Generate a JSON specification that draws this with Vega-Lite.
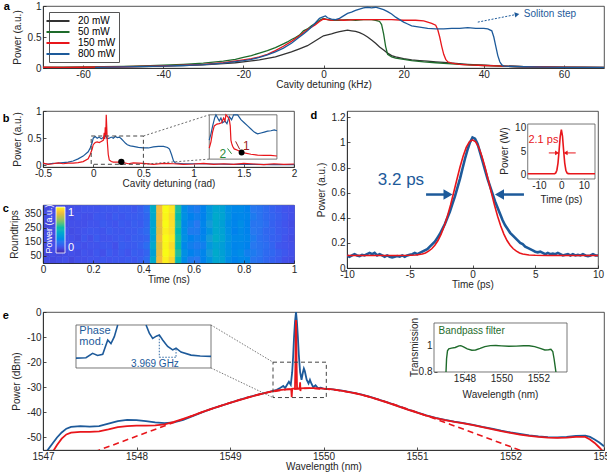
{
"$schema":"https://vega.github.io/schema/vega-lite/v6.json",
"padding":{"left":2,"top":0,"right":2,"bottom":0},
"config":{
 "font":"Liberation Sans",
 "locale":{"number":{"decimal":".","thousands":"","grouping":[3],"currency":["$",""],"minus":"-"}},
 "view":{"stroke":"#262626","strokeWidth":0.8},
 "axis":{"grid":false,"labelFlush":false,"labelOverlap":false,"domainColor":"#262626","domainWidth":0.8,"tickColor":"#262626","tickWidth":0.8,"tickSize":-3,"labelColor":"#262626","titleColor":"#262626","labelFontSize":10,"titleFontSize":10,"titleFontWeight":"normal"},
 "axisX":{"labelPadding":4,"titlePadding":0},
 "axisY":{"labelPadding":5,"titlePadding":5},
 "legend":{"labelFontSize":10}
},
"datasets":{
"a":[
{"x":-70,"p":0.01,"s":"20 mW"},{"x":-65,"p":0.008,"s":"20 mW"},{"x":-60,"p":0.012,"s":"20 mW"},{"x":-55,"p":0.014,"s":"20 mW"},{"x":-50,"p":0.018,"s":"20 mW"},{"x":-45,"p":0.024,"s":"20 mW"},{"x":-40,"p":0.03,"s":"20 mW"},{"x":-35,"p":0.04,"s":"20 mW"},{"x":-30,"p":0.052,"s":"20 mW"},{"x":-25,"p":0.07,"s":"20 mW"},{"x":-22,"p":0.085,"s":"20 mW"},{"x":-20,"p":0.1,"s":"20 mW"},{"x":-18,"p":0.115,"s":"20 mW"},{"x":-16,"p":0.13,"s":"20 mW"},{"x":-14,"p":0.155,"s":"20 mW"},{"x":-12,"p":0.18,"s":"20 mW"},{"x":-10,"p":0.22,"s":"20 mW"},{"x":-8,"p":0.26,"s":"20 mW"},{"x":-6,"p":0.31,"s":"20 mW"},{"x":-4,"p":0.36,"s":"20 mW"},{"x":-2,"p":0.44,"s":"20 mW"},{"x":-1,"p":0.48,"s":"20 mW"},{"x":0,"p":0.52,"s":"20 mW"},{"x":1,"p":0.535,"s":"20 mW"},{"x":2,"p":0.55,"s":"20 mW"},{"x":3,"p":0.57,"s":"20 mW"},{"x":4,"p":0.585,"s":"20 mW"},{"x":5,"p":0.6,"s":"20 mW"},{"x":6,"p":0.61,"s":"20 mW"},{"x":7,"p":0.6,"s":"20 mW"},{"x":8,"p":0.59,"s":"20 mW"},{"x":9,"p":0.57,"s":"20 mW"},{"x":10,"p":0.54,"s":"20 mW"},{"x":11,"p":0.5,"s":"20 mW"},{"x":12,"p":0.45,"s":"20 mW"},{"x":13,"p":0.4,"s":"20 mW"},{"x":14,"p":0.34,"s":"20 mW"},{"x":15,"p":0.29,"s":"20 mW"},{"x":16,"p":0.24,"s":"20 mW"},{"x":17,"p":0.2,"s":"20 mW"},{"x":18,"p":0.18,"s":"20 mW"},{"x":20,"p":0.15,"s":"20 mW"},{"x":22,"p":0.13,"s":"20 mW"},{"x":24,"p":0.12,"s":"20 mW"},{"x":26,"p":0.11,"s":"20 mW"},{"x":28,"p":0.1,"s":"20 mW"},{"x":30,"p":0.09,"s":"20 mW"},{"x":33,"p":0.075,"s":"20 mW"},{"x":36,"p":0.06,"s":"20 mW"},{"x":40,"p":0.045,"s":"20 mW"},{"x":45,"p":0.03,"s":"20 mW"},{"x":50,"p":0.02,"s":"20 mW"},{"x":55,"p":0.015,"s":"20 mW"},{"x":60,"p":0.01,"s":"20 mW"},{"x":65,"p":0.008,"s":"20 mW"},{"x":70,"p":0.005,"s":"20 mW"},
{"x":-70,"p":0.01,"s":"50 mW"},{"x":-60,"p":0.014,"s":"50 mW"},{"x":-55,"p":0.02,"s":"50 mW"},{"x":-50,"p":0.026,"s":"50 mW"},{"x":-45,"p":0.035,"s":"50 mW"},{"x":-40,"p":0.045,"s":"50 mW"},{"x":-35,"p":0.06,"s":"50 mW"},{"x":-30,"p":0.08,"s":"50 mW"},{"x":-25,"p":0.11,"s":"50 mW"},{"x":-22,"p":0.14,"s":"50 mW"},{"x":-20,"p":0.17,"s":"50 mW"},{"x":-18,"p":0.2,"s":"50 mW"},{"x":-16,"p":0.24,"s":"50 mW"},{"x":-14,"p":0.28,"s":"50 mW"},{"x":-12,"p":0.33,"s":"50 mW"},{"x":-10,"p":0.39,"s":"50 mW"},{"x":-9,"p":0.42,"s":"50 mW"},{"x":-8,"p":0.46,"s":"50 mW"},{"x":-7,"p":0.49,"s":"50 mW"},{"x":-6,"p":0.53,"s":"50 mW"},{"x":-5,"p":0.6,"s":"50 mW"},{"x":-4,"p":0.63,"s":"50 mW"},{"x":-3,"p":0.68,"s":"50 mW"},{"x":-2,"p":0.72,"s":"50 mW"},{"x":-1,"p":0.77,"s":"50 mW"},{"x":0,"p":0.8,"s":"50 mW"},{"x":1,"p":0.78,"s":"50 mW"},{"x":2,"p":0.77,"s":"50 mW"},{"x":4,"p":0.77,"s":"50 mW"},{"x":6,"p":0.78,"s":"50 mW"},{"x":8,"p":0.77,"s":"50 mW"},{"x":10,"p":0.78,"s":"50 mW"},{"x":12,"p":0.78,"s":"50 mW"},{"x":13,"p":0.77,"s":"50 mW"},{"x":14,"p":0.75,"s":"50 mW"},{"x":14.5,"p":0.7,"s":"50 mW"},{"x":15,"p":0.55,"s":"50 mW"},{"x":15.5,"p":0.35,"s":"50 mW"},{"x":16,"p":0.22,"s":"50 mW"},{"x":17,"p":0.18,"s":"50 mW"},{"x":18,"p":0.16,"s":"50 mW"},{"x":20,"p":0.14,"s":"50 mW"},{"x":22,"p":0.12,"s":"50 mW"},{"x":25,"p":0.1,"s":"50 mW"},{"x":28,"p":0.085,"s":"50 mW"},{"x":30,"p":0.075,"s":"50 mW"},{"x":35,"p":0.055,"s":"50 mW"},{"x":40,"p":0.04,"s":"50 mW"},{"x":45,"p":0.03,"s":"50 mW"},{"x":50,"p":0.02,"s":"50 mW"},{"x":60,"p":0.012,"s":"50 mW"},{"x":70,"p":0.008,"s":"50 mW"},
{"x":-70,"p":0.012,"s":"150 mW"},{"x":-65,"p":0.01,"s":"150 mW"},{"x":-60,"p":0.012,"s":"150 mW"},{"x":-50,"p":0.02,"s":"150 mW"},{"x":-40,"p":0.035,"s":"150 mW"},{"x":-35,"p":0.045,"s":"150 mW"},{"x":-30,"p":0.06,"s":"150 mW"},{"x":-25,"p":0.085,"s":"150 mW"},{"x":-20,"p":0.13,"s":"150 mW"},{"x":-18,"p":0.15,"s":"150 mW"},{"x":-16,"p":0.18,"s":"150 mW"},{"x":-14,"p":0.22,"s":"150 mW"},{"x":-12,"p":0.28,"s":"150 mW"},{"x":-10,"p":0.35,"s":"150 mW"},{"x":-8,"p":0.43,"s":"150 mW"},{"x":-6,"p":0.52,"s":"150 mW"},{"x":-5,"p":0.57,"s":"150 mW"},{"x":-4,"p":0.62,"s":"150 mW"},{"x":-3,"p":0.66,"s":"150 mW"},{"x":-2,"p":0.7,"s":"150 mW"},{"x":-1,"p":0.75,"s":"150 mW"},{"x":0,"p":0.79,"s":"150 mW"},{"x":1,"p":0.78,"s":"150 mW"},{"x":2,"p":0.77,"s":"150 mW"},{"x":3,"p":0.78,"s":"150 mW"},{"x":5,"p":0.77,"s":"150 mW"},{"x":8,"p":0.78,"s":"150 mW"},{"x":11,"p":0.78,"s":"150 mW"},{"x":14,"p":0.78,"s":"150 mW"},{"x":17,"p":0.78,"s":"150 mW"},{"x":20,"p":0.77,"s":"150 mW"},{"x":23,"p":0.77,"s":"150 mW"},{"x":25,"p":0.76,"s":"150 mW"},{"x":26,"p":0.74,"s":"150 mW"},{"x":27,"p":0.72,"s":"150 mW"},{"x":28,"p":0.69,"s":"150 mW"},{"x":28.5,"p":0.62,"s":"150 mW"},{"x":29,"p":0.5,"s":"150 mW"},{"x":29.5,"p":0.35,"s":"150 mW"},{"x":30,"p":0.22,"s":"150 mW"},{"x":30.5,"p":0.14,"s":"150 mW"},{"x":31,"p":0.1,"s":"150 mW"},{"x":32,"p":0.08,"s":"150 mW"},{"x":34,"p":0.06,"s":"150 mW"},{"x":36,"p":0.05,"s":"150 mW"},{"x":40,"p":0.04,"s":"150 mW"},{"x":45,"p":0.03,"s":"150 mW"},{"x":50,"p":0.02,"s":"150 mW"},{"x":60,"p":0.012,"s":"150 mW"},{"x":70,"p":0.008,"s":"150 mW"},
{"x":-57,"p":0.01,"s":"800 mW"},{"x":-50,"p":0.018,"s":"800 mW"},{"x":-40,"p":0.03,"s":"800 mW"},{"x":-35,"p":0.04,"s":"800 mW"},{"x":-30,"p":0.055,"s":"800 mW"},{"x":-25,"p":0.08,"s":"800 mW"},{"x":-20,"p":0.12,"s":"800 mW"},{"x":-18,"p":0.14,"s":"800 mW"},{"x":-16,"p":0.17,"s":"800 mW"},{"x":-14,"p":0.21,"s":"800 mW"},{"x":-12,"p":0.26,"s":"800 mW"},{"x":-10,"p":0.32,"s":"800 mW"},{"x":-8,"p":0.4,"s":"800 mW"},{"x":-6,"p":0.5,"s":"800 mW"},{"x":-5,"p":0.55,"s":"800 mW"},{"x":-4,"p":0.6,"s":"800 mW"},{"x":-3,"p":0.66,"s":"800 mW"},{"x":-2,"p":0.73,"s":"800 mW"},{"x":-1,"p":0.8,"s":"800 mW"},{"x":0,"p":0.83,"s":"800 mW"},{"x":0.5,"p":0.84,"s":"800 mW"},{"x":1,"p":0.81,"s":"800 mW"},{"x":2,"p":0.79,"s":"800 mW"},{"x":3,"p":0.78,"s":"800 mW"},{"x":4,"p":0.8,"s":"800 mW"},{"x":5,"p":0.84,"s":"800 mW"},{"x":6,"p":0.88,"s":"800 mW"},{"x":7,"p":0.9,"s":"800 mW"},{"x":8,"p":0.93,"s":"800 mW"},{"x":9,"p":0.95,"s":"800 mW"},{"x":10,"p":0.97,"s":"800 mW"},{"x":11,"p":0.98,"s":"800 mW"},{"x":12,"p":0.97,"s":"800 mW"},{"x":13,"p":0.98,"s":"800 mW"},{"x":14,"p":0.96,"s":"800 mW"},{"x":15,"p":0.94,"s":"800 mW"},{"x":16,"p":0.91,"s":"800 mW"},{"x":17,"p":0.87,"s":"800 mW"},{"x":18,"p":0.82,"s":"800 mW"},{"x":19,"p":0.78,"s":"800 mW"},{"x":20,"p":0.74,"s":"800 mW"},{"x":21,"p":0.71,"s":"800 mW"},{"x":22,"p":0.68,"s":"800 mW"},{"x":24,"p":0.66,"s":"800 mW"},{"x":26,"p":0.64,"s":"800 mW"},{"x":28,"p":0.63,"s":"800 mW"},{"x":30,"p":0.63,"s":"800 mW"},{"x":32,"p":0.64,"s":"800 mW"},{"x":34,"p":0.64,"s":"800 mW"},{"x":36,"p":0.65,"s":"800 mW"},{"x":38,"p":0.64,"s":"800 mW"},{"x":40,"p":0.64,"s":"800 mW"},{"x":41,"p":0.63,"s":"800 mW"},{"x":42,"p":0.6,"s":"800 mW"},{"x":42.5,"p":0.5,"s":"800 mW"},{"x":43,"p":0.35,"s":"800 mW"},{"x":43.5,"p":0.2,"s":"800 mW"},{"x":44,"p":0.1,"s":"800 mW"},{"x":44.5,"p":0.05,"s":"800 mW"},{"x":45,"p":0.03,"s":"800 mW"},{"x":50,"p":0.02,"s":"800 mW"},{"x":55,"p":0.015,"s":"800 mW"},{"x":60,"p":0.01,"s":"800 mW"},{"x":70,"p":0.008,"s":"800 mW"}
],
"b":[
{"x":-0.5,"p":0.03,"s":"blue"},{"x":-0.45,"p":0.025,"s":"blue"},{"x":-0.4,"p":0.035,"s":"blue"},{"x":-0.35,"p":0.04,"s":"blue"},{"x":-0.3,"p":0.05,"s":"blue"},{"x":-0.25,"p":0.06,"s":"blue"},{"x":-0.2,"p":0.08,"s":"blue"},{"x":-0.15,"p":0.12,"s":"blue"},{"x":-0.1,"p":0.17,"s":"blue"},{"x":-0.05,"p":0.25,"s":"blue"},{"x":-0.03,"p":0.32,"s":"blue"},{"x":-0.01,"p":0.42,"s":"blue"},{"x":0,"p":0.5,"s":"blue"},{"x":0.02,"p":0.53,"s":"blue"},{"x":0.04,"p":0.5,"s":"blue"},{"x":0.06,"p":0.52,"s":"blue"},{"x":0.08,"p":0.49,"s":"blue"},{"x":0.1,"p":0.51,"s":"blue"},{"x":0.12,"p":0.55,"s":"blue"},{"x":0.14,"p":0.49,"s":"blue"},{"x":0.16,"p":0.5,"s":"blue"},{"x":0.18,"p":0.52,"s":"blue"},{"x":0.2,"p":0.5,"s":"blue"},{"x":0.22,"p":0.53,"s":"blue"},{"x":0.24,"p":0.51,"s":"blue"},{"x":0.26,"p":0.52,"s":"blue"},{"x":0.28,"p":0.49,"s":"blue"},{"x":0.3,"p":0.45,"s":"blue"},{"x":0.32,"p":0.41,"s":"blue"},{"x":0.34,"p":0.38,"s":"blue"},{"x":0.37,"p":0.36,"s":"blue"},{"x":0.4,"p":0.35,"s":"blue"},{"x":0.45,"p":0.33,"s":"blue"},{"x":0.5,"p":0.32,"s":"blue"},{"x":0.55,"p":0.32,"s":"blue"},{"x":0.6,"p":0.34,"s":"blue"},{"x":0.65,"p":0.35,"s":"blue"},{"x":0.7,"p":0.35,"s":"blue"},{"x":0.74,"p":0.33,"s":"blue"},{"x":0.76,"p":0.3,"s":"blue"},{"x":0.78,"p":0.2,"s":"blue"},{"x":0.8,"p":0.08,"s":"blue"},{"x":0.82,"p":0.04,"s":"blue"},{"x":0.9,"p":0.03,"s":"blue"},{"x":1.0,"p":0.03,"s":"blue"},{"x":1.2,"p":0.025,"s":"blue"},{"x":1.4,"p":0.02,"s":"blue"},{"x":1.6,"p":0.02,"s":"blue"},{"x":1.8,"p":0.015,"s":"blue"},{"x":2.0,"p":0.015,"s":"blue"},
{"x":-0.5,"p":0.04,"s":"red"},{"x":-0.45,"p":0.02,"s":"red"},{"x":-0.4,"p":0.03,"s":"red"},{"x":-0.35,"p":0.045,"s":"red"},{"x":-0.3,"p":0.03,"s":"red"},{"x":-0.25,"p":0.04,"s":"red"},{"x":-0.2,"p":0.04,"s":"red"},{"x":-0.15,"p":0.05,"s":"red"},{"x":-0.1,"p":0.07,"s":"red"},{"x":-0.05,"p":0.12,"s":"red"},{"x":-0.03,"p":0.2,"s":"red"},{"x":-0.01,"p":0.3,"s":"red"},{"x":0,"p":0.38,"s":"red"},{"x":0.02,"p":0.42,"s":"red"},{"x":0.04,"p":0.43,"s":"red"},{"x":0.06,"p":0.42,"s":"red"},{"x":0.08,"p":0.44,"s":"red"},{"x":0.1,"p":0.46,"s":"red"},{"x":0.11,"p":0.6,"s":"red"},{"x":0.115,"p":0.48,"s":"red"},{"x":0.12,"p":0.7,"s":"red"},{"x":0.125,"p":0.55,"s":"red"},{"x":0.13,"p":0.93,"s":"red"},{"x":0.135,"p":0.7,"s":"red"},{"x":0.14,"p":0.45,"s":"red"},{"x":0.15,"p":0.2,"s":"red"},{"x":0.16,"p":0.1,"s":"red"},{"x":0.18,"p":0.07,"s":"red"},{"x":0.2,"p":0.06,"s":"red"},{"x":0.25,"p":0.06,"s":"red"},{"x":0.3,"p":0.05,"s":"red"},{"x":0.35,"p":0.03,"s":"red"},{"x":0.4,"p":0.045,"s":"red"},{"x":0.5,"p":0.035,"s":"red"},{"x":0.6,"p":0.02,"s":"red"},{"x":0.7,"p":0.035,"s":"red"},{"x":0.8,"p":0.03,"s":"red"},{"x":0.9,"p":0.02,"s":"red"},{"x":1.0,"p":0.025,"s":"red"},{"x":1.1,"p":0.035,"s":"red"},{"x":1.2,"p":0.02,"s":"red"},{"x":1.3,"p":0.03,"s":"red"},{"x":1.4,"p":0.02,"s":"red"},{"x":1.5,"p":0.035,"s":"red"},{"x":1.6,"p":0.025,"s":"red"},{"x":1.7,"p":0.015,"s":"red"},{"x":1.8,"p":0.03,"s":"red"},{"x":1.9,"p":0.02,"s":"red"},{"x":2.0,"p":0.025,"s":"red"}
],
"bi":[
{"u":0,"v":0.43,"s":"blue"},{"u":0.025,"v":0.57,"s":"blue"},{"u":0.05,"v":0.75,"s":"blue"},{"u":0.08,"v":0.93,"s":"blue"},{"u":0.099,"v":1.0,"s":"blue"},{"u":0.148,"v":0.86,"s":"blue"},{"u":0.172,"v":0.93,"s":"blue"},{"u":0.197,"v":0.82,"s":"blue"},{"u":0.232,"v":0.86,"s":"blue"},{"u":0.261,"v":0.8,"s":"blue"},{"u":0.296,"v":0.96,"s":"blue"},{"u":0.33,"v":0.89,"s":"blue"},{"u":0.36,"v":1.0,"s":"blue"},{"u":0.419,"v":1.0,"s":"blue"},{"u":0.468,"v":0.89,"s":"blue"},{"u":0.517,"v":0.82,"s":"blue"},{"u":0.567,"v":0.75,"s":"blue"},{"u":0.616,"v":0.68,"s":"blue"},{"u":0.665,"v":0.61,"s":"blue"},{"u":0.714,"v":0.57,"s":"blue"},{"u":0.764,"v":0.59,"s":"blue"},{"u":0.813,"v":0.61,"s":"blue"},{"u":0.862,"v":0.63,"s":"blue"},{"u":0.911,"v":0.64,"s":"blue"},{"u":0.961,"v":0.66,"s":"blue"},{"u":1.0,"v":0.64,"s":"blue"},
{"u":0,"v":0.25,"s":"red"},{"u":0.025,"v":0.39,"s":"red"},{"u":0.049,"v":0.61,"s":"red"},{"u":0.074,"v":0.75,"s":"red"},{"u":0.113,"v":0.79,"s":"red"},{"u":0.148,"v":0.8,"s":"red"},{"u":0.182,"v":0.82,"s":"red"},{"u":0.212,"v":0.93,"s":"red"},{"u":0.232,"v":0.86,"s":"red"},{"u":0.246,"v":1.0,"s":"red"},{"u":0.271,"v":0.96,"s":"red"},{"u":0.296,"v":0.89,"s":"red"},{"u":0.31,"v":0.75,"s":"red"},{"u":0.32,"v":0.43,"s":"red"},{"u":0.33,"v":0.36,"s":"red"},{"u":0.345,"v":0.29,"s":"red"},{"u":0.369,"v":0.23,"s":"red"},{"u":0.419,"v":0.2,"s":"red"},{"u":0.468,"v":0.16,"s":"red"},{"u":0.517,"v":0.14,"s":"red"},{"u":0.616,"v":0.11,"s":"red"},{"u":0.714,"v":0.09,"s":"red"},{"u":0.813,"v":0.086,"s":"red"},{"u":0.911,"v":0.086,"s":"red"},{"u":1.0,"v":0.07,"s":"red"}
],
"c":[
{"t":0,"r":0,"p":0.11},{"t":0.025,"r":0,"p":0.10},{"t":0.05,"r":0,"p":0.11},{"t":0.075,"r":0,"p":0.12},{"t":0.1,"r":0,"p":0.10},{"t":0.125,"r":0,"p":0.12},{"t":0.15,"r":0,"p":0.12},{"t":0.175,"r":0,"p":0.13},{"t":0.2,"r":0,"p":0.13},{"t":0.225,"r":0,"p":0.14},{"t":0.25,"r":0,"p":0.13},{"t":0.275,"r":0,"p":0.14},{"t":0.3,"r":0,"p":0.14},{"t":0.325,"r":0,"p":0.15},{"t":0.35,"r":0,"p":0.14},{"t":0.375,"r":0,"p":0.16},{"t":0.4,"r":0,"p":0.20},{"t":0.425,"r":0,"p":0.45},{"t":0.45,"r":0,"p":0.88},{"t":0.475,"r":0,"p":0.98},{"t":0.5,"r":0,"p":0.93},{"t":0.525,"r":0,"p":0.52},{"t":0.55,"r":0,"p":0.31},{"t":0.575,"r":0,"p":0.26},{"t":0.6,"r":0,"p":0.25},{"t":0.625,"r":0,"p":0.28},{"t":0.65,"r":0,"p":0.35},{"t":0.675,"r":0,"p":0.43},{"t":0.7,"r":0,"p":0.41},{"t":0.725,"r":0,"p":0.32},{"t":0.75,"r":0,"p":0.28},{"t":0.775,"r":0,"p":0.30},{"t":0.8,"r":0,"p":0.29},{"t":0.825,"r":0,"p":0.24},{"t":0.85,"r":0,"p":0.22},{"t":0.875,"r":0,"p":0.19},{"t":0.9,"r":0,"p":0.17},{"t":0.925,"r":0,"p":0.15},{"t":0.95,"r":0,"p":0.12},{"t":0.975,"r":0,"p":0.11},
{"t":0,"r":51.75,"p":0.09},{"t":0.025,"r":51.75,"p":0.11},{"t":0.05,"r":51.75,"p":0.10},{"t":0.075,"r":51.75,"p":0.11},{"t":0.1,"r":51.75,"p":0.12},{"t":0.125,"r":51.75,"p":0.11},{"t":0.15,"r":51.75,"p":0.13},{"t":0.175,"r":51.75,"p":0.12},{"t":0.2,"r":51.75,"p":0.14},{"t":0.225,"r":51.75,"p":0.12},{"t":0.25,"r":51.75,"p":0.15},{"t":0.275,"r":51.75,"p":0.13},{"t":0.3,"r":51.75,"p":0.15},{"t":0.325,"r":51.75,"p":0.13},{"t":0.35,"r":51.75,"p":0.16},{"t":0.375,"r":51.75,"p":0.15},{"t":0.4,"r":51.75,"p":0.18},{"t":0.425,"r":51.75,"p":0.40},{"t":0.45,"r":51.75,"p":0.86},{"t":0.475,"r":51.75,"p":1.0},{"t":0.5,"r":51.75,"p":0.96},{"t":0.525,"r":51.75,"p":0.58},{"t":0.55,"r":51.75,"p":0.33},{"t":0.575,"r":51.75,"p":0.28},{"t":0.6,"r":51.75,"p":0.27},{"t":0.625,"r":51.75,"p":0.29},{"t":0.65,"r":51.75,"p":0.37},{"t":0.675,"r":51.75,"p":0.45},{"t":0.7,"r":51.75,"p":0.40},{"t":0.725,"r":51.75,"p":0.34},{"t":0.75,"r":51.75,"p":0.30},{"t":0.775,"r":51.75,"p":0.32},{"t":0.8,"r":51.75,"p":0.27},{"t":0.825,"r":51.75,"p":0.26},{"t":0.85,"r":51.75,"p":0.24},{"t":0.875,"r":51.75,"p":0.20},{"t":0.9,"r":51.75,"p":0.19},{"t":0.925,"r":51.75,"p":0.16},{"t":0.95,"r":51.75,"p":0.14},{"t":0.975,"r":51.75,"p":0.12},
{"t":0,"r":103.5,"p":0.10},{"t":0.025,"r":103.5,"p":0.12},{"t":0.05,"r":103.5,"p":0.11},{"t":0.075,"r":103.5,"p":0.12},{"t":0.1,"r":103.5,"p":0.11},{"t":0.125,"r":103.5,"p":0.13},{"t":0.15,"r":103.5,"p":0.12},{"t":0.175,"r":103.5,"p":0.13},{"t":0.2,"r":103.5,"p":0.13},{"t":0.225,"r":103.5,"p":0.14},{"t":0.25,"r":103.5,"p":0.14},{"t":0.275,"r":103.5,"p":0.12},{"t":0.3,"r":103.5,"p":0.16},{"t":0.325,"r":103.5,"p":0.15},{"t":0.35,"r":103.5,"p":0.15},{"t":0.375,"r":103.5,"p":0.17},{"t":0.4,"r":103.5,"p":0.21},{"t":0.425,"r":103.5,"p":0.44},{"t":0.45,"r":103.5,"p":0.84},{"t":0.475,"r":103.5,"p":0.99},{"t":0.5,"r":103.5,"p":0.94},{"t":0.525,"r":103.5,"p":0.55},{"t":0.55,"r":103.5,"p":0.30},{"t":0.575,"r":103.5,"p":0.27},{"t":0.6,"r":103.5,"p":0.26},{"t":0.625,"r":103.5,"p":0.27},{"t":0.65,"r":103.5,"p":0.36},{"t":0.675,"r":103.5,"p":0.42},{"t":0.7,"r":103.5,"p":0.39},{"t":0.725,"r":103.5,"p":0.33},{"t":0.75,"r":103.5,"p":0.29},{"t":0.775,"r":103.5,"p":0.30},{"t":0.8,"r":103.5,"p":0.28},{"t":0.825,"r":103.5,"p":0.25},{"t":0.85,"r":103.5,"p":0.23},{"t":0.875,"r":103.5,"p":0.21},{"t":0.9,"r":103.5,"p":0.18},{"t":0.925,"r":103.5,"p":0.14},{"t":0.95,"r":103.5,"p":0.13},{"t":0.975,"r":103.5,"p":0.12},
{"t":0,"r":155.25,"p":0.11},{"t":0.025,"r":155.25,"p":0.10},{"t":0.05,"r":155.25,"p":0.09},{"t":0.075,"r":155.25,"p":0.12},{"t":0.1,"r":155.25,"p":0.12},{"t":0.125,"r":155.25,"p":0.11},{"t":0.15,"r":155.25,"p":0.14},{"t":0.175,"r":155.25,"p":0.12},{"t":0.2,"r":155.25,"p":0.15},{"t":0.225,"r":155.25,"p":0.13},{"t":0.25,"r":155.25,"p":0.13},{"t":0.275,"r":155.25,"p":0.14},{"t":0.3,"r":155.25,"p":0.15},{"t":0.325,"r":155.25,"p":0.14},{"t":0.35,"r":155.25,"p":0.16},{"t":0.375,"r":155.25,"p":0.16},{"t":0.4,"r":155.25,"p":0.18},{"t":0.425,"r":155.25,"p":0.41},{"t":0.45,"r":155.25,"p":0.87},{"t":0.475,"r":155.25,"p":1.0},{"t":0.5,"r":155.25,"p":0.97},{"t":0.525,"r":155.25,"p":0.56},{"t":0.55,"r":155.25,"p":0.33},{"t":0.575,"r":155.25,"p":0.28},{"t":0.6,"r":155.25,"p":0.27},{"t":0.625,"r":155.25,"p":0.29},{"t":0.65,"r":155.25,"p":0.38},{"t":0.675,"r":155.25,"p":0.46},{"t":0.7,"r":155.25,"p":0.42},{"t":0.725,"r":155.25,"p":0.34},{"t":0.75,"r":155.25,"p":0.30},{"t":0.775,"r":155.25,"p":0.31},{"t":0.8,"r":155.25,"p":0.29},{"t":0.825,"r":155.25,"p":0.26},{"t":0.85,"r":155.25,"p":0.22},{"t":0.875,"r":155.25,"p":0.20},{"t":0.9,"r":155.25,"p":0.17},{"t":0.925,"r":155.25,"p":0.16},{"t":0.95,"r":155.25,"p":0.13},{"t":0.975,"r":155.25,"p":0.11},
{"t":0,"r":207,"p":0.10},{"t":0.025,"r":207,"p":0.11},{"t":0.05,"r":207,"p":0.11},{"t":0.075,"r":207,"p":0.13},{"t":0.1,"r":207,"p":0.11},{"t":0.125,"r":207,"p":0.12},{"t":0.15,"r":207,"p":0.13},{"t":0.175,"r":207,"p":0.14},{"t":0.2,"r":207,"p":0.14},{"t":0.225,"r":207,"p":0.13},{"t":0.25,"r":207,"p":0.15},{"t":0.275,"r":207,"p":0.14},{"t":0.3,"r":207,"p":0.14},{"t":0.325,"r":207,"p":0.15},{"t":0.35,"r":207,"p":0.15},{"t":0.375,"r":207,"p":0.17},{"t":0.4,"r":207,"p":0.20},{"t":0.425,"r":207,"p":0.43},{"t":0.45,"r":207,"p":0.85},{"t":0.475,"r":207,"p":0.98},{"t":0.5,"r":207,"p":0.95},{"t":0.525,"r":207,"p":0.54},{"t":0.55,"r":207,"p":0.32},{"t":0.575,"r":207,"p":0.26},{"t":0.6,"r":207,"p":0.26},{"t":0.625,"r":207,"p":0.28},{"t":0.65,"r":207,"p":0.35},{"t":0.675,"r":207,"p":0.44},{"t":0.7,"r":207,"p":0.41},{"t":0.725,"r":207,"p":0.33},{"t":0.75,"r":207,"p":0.28},{"t":0.775,"r":207,"p":0.31},{"t":0.8,"r":207,"p":0.28},{"t":0.825,"r":207,"p":0.25},{"t":0.85,"r":207,"p":0.23},{"t":0.875,"r":207,"p":0.19},{"t":0.9,"r":207,"p":0.18},{"t":0.925,"r":207,"p":0.15},{"t":0.95,"r":207,"p":0.14},{"t":0.975,"r":207,"p":0.12},
{"t":0,"r":258.75,"p":0.09},{"t":0.025,"r":258.75,"p":0.10},{"t":0.05,"r":258.75,"p":0.10},{"t":0.075,"r":258.75,"p":0.11},{"t":0.1,"r":258.75,"p":0.12},{"t":0.125,"r":258.75,"p":0.12},{"t":0.15,"r":258.75,"p":0.12},{"t":0.175,"r":258.75,"p":0.13},{"t":0.2,"r":258.75,"p":0.13},{"t":0.225,"r":258.75,"p":0.15},{"t":0.25,"r":258.75,"p":0.14},{"t":0.275,"r":258.75,"p":0.13},{"t":0.3,"r":258.75,"p":0.15},{"t":0.325,"r":258.75,"p":0.14},{"t":0.35,"r":258.75,"p":0.16},{"t":0.375,"r":258.75,"p":0.15},{"t":0.4,"r":258.75,"p":0.19},{"t":0.425,"r":258.75,"p":0.42},{"t":0.45,"r":258.75,"p":0.86},{"t":0.475,"r":258.75,"p":1.0},{"t":0.5,"r":258.75,"p":0.95},{"t":0.525,"r":258.75,"p":0.57},{"t":0.55,"r":258.75,"p":0.31},{"t":0.575,"r":258.75,"p":0.27},{"t":0.6,"r":258.75,"p":0.25},{"t":0.625,"r":258.75,"p":0.29},{"t":0.65,"r":258.75,"p":0.37},{"t":0.675,"r":258.75,"p":0.44},{"t":0.7,"r":258.75,"p":0.40},{"t":0.725,"r":258.75,"p":0.32},{"t":0.75,"r":258.75,"p":0.29},{"t":0.775,"r":258.75,"p":0.32},{"t":0.8,"r":258.75,"p":0.28},{"t":0.825,"r":258.75,"p":0.24},{"t":0.85,"r":258.75,"p":0.24},{"t":0.875,"r":258.75,"p":0.21},{"t":0.9,"r":258.75,"p":0.17},{"t":0.925,"r":258.75,"p":0.15},{"t":0.95,"r":258.75,"p":0.13},{"t":0.975,"r":258.75,"p":0.11},
{"t":0,"r":310.5,"p":0.11},{"t":0.025,"r":310.5,"p":0.12},{"t":0.05,"r":310.5,"p":0.10},{"t":0.075,"r":310.5,"p":0.12},{"t":0.1,"r":310.5,"p":0.11},{"t":0.125,"r":310.5,"p":0.13},{"t":0.15,"r":310.5,"p":0.12},{"t":0.175,"r":310.5,"p":0.12},{"t":0.2,"r":310.5,"p":0.14},{"t":0.225,"r":310.5,"p":0.14},{"t":0.25,"r":310.5,"p":0.13},{"t":0.275,"r":310.5,"p":0.15},{"t":0.3,"r":310.5,"p":0.14},{"t":0.325,"r":310.5,"p":0.15},{"t":0.35,"r":310.5,"p":0.15},{"t":0.375,"r":310.5,"p":0.16},{"t":0.4,"r":310.5,"p":0.19},{"t":0.425,"r":310.5,"p":0.44},{"t":0.45,"r":310.5,"p":0.87},{"t":0.475,"r":310.5,"p":0.99},{"t":0.5,"r":310.5,"p":0.94},{"t":0.525,"r":310.5,"p":0.55},{"t":0.55,"r":310.5,"p":0.33},{"t":0.575,"r":310.5,"p":0.28},{"t":0.6,"r":310.5,"p":0.27},{"t":0.625,"r":310.5,"p":0.28},{"t":0.65,"r":310.5,"p":0.36},{"t":0.675,"r":310.5,"p":0.45},{"t":0.7,"r":310.5,"p":0.42},{"t":0.725,"r":310.5,"p":0.34},{"t":0.75,"r":310.5,"p":0.29},{"t":0.775,"r":310.5,"p":0.30},{"t":0.8,"r":310.5,"p":0.29},{"t":0.825,"r":310.5,"p":0.26},{"t":0.85,"r":310.5,"p":0.23},{"t":0.875,"r":310.5,"p":0.20},{"t":0.9,"r":310.5,"p":0.18},{"t":0.925,"r":310.5,"p":0.16},{"t":0.95,"r":310.5,"p":0.14},{"t":0.975,"r":310.5,"p":0.12},
{"t":0,"r":362.25,"p":0.10},{"t":0.025,"r":362.25,"p":0.11},{"t":0.05,"r":362.25,"p":0.11},{"t":0.075,"r":362.25,"p":0.11},{"t":0.1,"r":362.25,"p":0.12},{"t":0.125,"r":362.25,"p":0.12},{"t":0.15,"r":362.25,"p":0.13},{"t":0.175,"r":362.25,"p":0.13},{"t":0.2,"r":362.25,"p":0.13},{"t":0.225,"r":362.25,"p":0.14},{"t":0.25,"r":362.25,"p":0.14},{"t":0.275,"r":362.25,"p":0.14},{"t":0.3,"r":362.25,"p":0.15},{"t":0.325,"r":362.25,"p":0.15},{"t":0.35,"r":362.25,"p":0.14},{"t":0.375,"r":362.25,"p":0.16},{"t":0.4,"r":362.25,"p":0.21},{"t":0.425,"r":362.25,"p":0.46},{"t":0.45,"r":362.25,"p":0.88},{"t":0.475,"r":362.25,"p":1.0},{"t":0.5,"r":362.25,"p":0.96},{"t":0.525,"r":362.25,"p":0.57},{"t":0.55,"r":362.25,"p":0.32},{"t":0.575,"r":362.25,"p":0.27},{"t":0.6,"r":362.25,"p":0.26},{"t":0.625,"r":362.25,"p":0.28},{"t":0.65,"r":362.25,"p":0.36},{"t":0.675,"r":362.25,"p":0.43},{"t":0.7,"r":362.25,"p":0.41},{"t":0.725,"r":362.25,"p":0.33},{"t":0.75,"r":362.25,"p":0.30},{"t":0.775,"r":362.25,"p":0.31},{"t":0.8,"r":362.25,"p":0.28},{"t":0.825,"r":362.25,"p":0.25},{"t":0.85,"r":362.25,"p":0.23},{"t":0.875,"r":362.25,"p":0.20},{"t":0.9,"r":362.25,"p":0.17},{"t":0.925,"r":362.25,"p":0.15},{"t":0.95,"r":362.25,"p":0.13},{"t":0.975,"r":362.25,"p":0.12}
],
"db":[
{"x":-10,"p":0.1},{"x":-9.8,"p":0.09},{"x":-9.6,"p":0.1},{"x":-9.4,"p":0.11},{"x":-9.2,"p":0.1},{"x":-9,"p":0.095},{"x":-8.8,"p":0.105},{"x":-8.6,"p":0.1},{"x":-8.4,"p":0.11},{"x":-8.2,"p":0.12},{"x":-8,"p":0.11},{"x":-7.8,"p":0.12},{"x":-7.6,"p":0.1},{"x":-7.4,"p":0.11},{"x":-7.2,"p":0.1},{"x":-7,"p":0.09},{"x":-6.8,"p":0.1},{"x":-6.6,"p":0.09},{"x":-6.4,"p":0.085},{"x":-6.2,"p":0.09},{"x":-6,"p":0.095},{"x":-5.8,"p":0.09},{"x":-5.6,"p":0.1},{"x":-5.4,"p":0.09},{"x":-5.2,"p":0.1},{"x":-5,"p":0.105},{"x":-4.8,"p":0.11},{"x":-4.6,"p":0.12},{"x":-4.4,"p":0.11},{"x":-4.2,"p":0.12},{"x":-4,"p":0.13},{"x":-3.8,"p":0.14},{"x":-3.6,"p":0.15},{"x":-3.4,"p":0.17},{"x":-3.2,"p":0.19},{"x":-3,"p":0.21},{"x":-2.8,"p":0.24},{"x":-2.6,"p":0.27},{"x":-2.4,"p":0.31},{"x":-2.2,"p":0.35},{"x":-2,"p":0.4},{"x":-1.8,"p":0.45},{"x":-1.6,"p":0.51},{"x":-1.4,"p":0.57},{"x":-1.2,"p":0.64},{"x":-1,"p":0.71},{"x":-0.8,"p":0.79},{"x":-0.6,"p":0.87},{"x":-0.4,"p":0.94},{"x":-0.2,"p":1.0},{"x":0,"p":1.04},{"x":0.2,"p":1.03},{"x":0.4,"p":0.99},{"x":0.6,"p":0.92},{"x":0.8,"p":0.85},{"x":1,"p":0.78},{"x":1.2,"p":0.71},{"x":1.4,"p":0.65},{"x":1.6,"p":0.59},{"x":1.8,"p":0.53},{"x":2,"p":0.48},{"x":2.2,"p":0.43},{"x":2.4,"p":0.38},{"x":2.6,"p":0.34},{"x":2.8,"p":0.31},{"x":3,"p":0.28},{"x":3.2,"p":0.26},{"x":3.4,"p":0.24},{"x":3.6,"p":0.22},{"x":3.8,"p":0.2},{"x":4,"p":0.19},{"x":4.2,"p":0.17},{"x":4.4,"p":0.16},{"x":4.6,"p":0.15},{"x":4.8,"p":0.14},{"x":5,"p":0.13},{"x":5.2,"p":0.125},{"x":5.4,"p":0.13},{"x":5.6,"p":0.12},{"x":5.8,"p":0.11},{"x":6,"p":0.12},{"x":6.2,"p":0.11},{"x":6.4,"p":0.115},{"x":6.6,"p":0.11},{"x":6.8,"p":0.12},{"x":7,"p":0.11},{"x":7.2,"p":0.1},{"x":7.4,"p":0.105},{"x":7.6,"p":0.11},{"x":7.8,"p":0.1},{"x":8,"p":0.11},{"x":8.2,"p":0.1},{"x":8.4,"p":0.105},{"x":8.6,"p":0.1},{"x":8.8,"p":0.11},{"x":9,"p":0.1},{"x":9.2,"p":0.095},{"x":9.4,"p":0.1},{"x":9.6,"p":0.11},{"x":9.8,"p":0.1},{"x":10,"p":0.1}
],
"df":[
{"x":-10,"p":0.1},{"x":-6,"p":0.1},{"x":-5,"p":0.101},{"x":-4.5,"p":0.104},{"x":-4,"p":0.112},{"x":-3.75,"p":0.12},{"x":-3.5,"p":0.134},{"x":-3.25,"p":0.153},{"x":-3,"p":0.181},{"x":-2.75,"p":0.219},{"x":-2.5,"p":0.27},{"x":-2.25,"p":0.334},{"x":-2,"p":0.412},{"x":-1.75,"p":0.502},{"x":-1.5,"p":0.601},{"x":-1.25,"p":0.703},{"x":-1,"p":0.802},{"x":-0.75,"p":0.89},{"x":-0.5,"p":0.96},{"x":-0.25,"p":1.005},{"x":0,"p":1.02},{"x":0.25,"p":1.005},{"x":0.5,"p":0.96},{"x":0.75,"p":0.89},{"x":1,"p":0.802},{"x":1.25,"p":0.703},{"x":1.5,"p":0.601},{"x":1.75,"p":0.502},{"x":2,"p":0.412},{"x":2.25,"p":0.334},{"x":2.5,"p":0.27},{"x":2.75,"p":0.219},{"x":3,"p":0.181},{"x":3.25,"p":0.153},{"x":3.5,"p":0.134},{"x":3.75,"p":0.12},{"x":4,"p":0.112},{"x":4.5,"p":0.104},{"x":5,"p":0.101},{"x":6,"p":0.1},{"x":10,"p":0.1}
],
"di":[
{"t":-15,"w":0.2},{"t":-4,"w":0.2},{"t":-3,"w":0.23},{"t":-2.5,"w":0.38},{"t":-2,"w":0.95},{"t":-1.5,"w":2.46},{"t":-1,"w":5.16},{"t":-0.5,"w":8.17},{"t":0,"w":9.5},{"t":0.5,"w":8.17},{"t":1,"w":5.16},{"t":1.5,"w":2.46},{"t":2,"w":0.95},{"t":2.5,"w":0.38},{"t":3,"w":0.23},{"t":4,"w":0.2},{"t":15,"w":0.2}
],
"eb":[
{"l":1547.0,"d":-58},{"l":1547.05,"d":-55},{"l":1547.1,"d":-52.5},{"l":1547.15,"d":-50},{"l":1547.2,"d":-48},{"l":1547.25,"d":-46.5},{"l":1547.3,"d":-45.8},{"l":1547.4,"d":-45.5},{"l":1547.5,"d":-45.7},{"l":1547.6,"d":-45.5},{"l":1547.7,"d":-44.5},{"l":1547.8,"d":-43.5},{"l":1547.9,"d":-43},{"l":1548.0,"d":-43.1},{"l":1548.1,"d":-43.5},{"l":1548.2,"d":-44},{"l":1548.3,"d":-44.3},{"l":1548.4,"d":-44},{"l":1548.5,"d":-43},{"l":1548.6,"d":-41.5},{"l":1548.7,"d":-40},{"l":1548.8,"d":-38.6},{"l":1548.9,"d":-37.4},{"l":1549.0,"d":-36.2},{"l":1549.1,"d":-35},{"l":1549.2,"d":-33.9},{"l":1549.3,"d":-32.9},{"l":1549.4,"d":-32},{"l":1549.5,"d":-31},{"l":1549.54,"d":-30.2},{"l":1549.57,"d":-29.5},{"l":1549.59,"d":-30.3},{"l":1549.61,"d":-29.0},{"l":1549.63,"d":-27.8},{"l":1549.65,"d":-29.0},{"l":1549.665,"d":-24},{"l":1549.675,"d":-18},{"l":1549.685,"d":-10},{"l":1549.695,"d":-4},{"l":1549.706,"d":0},{"l":1549.716,"d":-4},{"l":1549.726,"d":-10},{"l":1549.736,"d":-17},{"l":1549.75,"d":-24},{"l":1549.765,"d":-27},{"l":1549.78,"d":-24},{"l":1549.79,"d":-22.5},{"l":1549.8,"d":-23.5},{"l":1549.82,"d":-27},{"l":1549.84,"d":-28.5},{"l":1549.855,"d":-27},{"l":1549.87,"d":-28.5},{"l":1549.89,"d":-30},{"l":1549.915,"d":-29.2},{"l":1549.94,"d":-30.3},{"l":1549.97,"d":-30.2},{"l":1550.0,"d":-30.5},{"l":1550.05,"d":-30.6},{"l":1550.1,"d":-30.8},{"l":1550.2,"d":-31.3},{"l":1550.3,"d":-32},{"l":1550.4,"d":-32.8},{"l":1550.5,"d":-33.8},{"l":1550.6,"d":-35},{"l":1550.7,"d":-36.2},{"l":1550.8,"d":-37.5},{"l":1550.9,"d":-38.8},{"l":1551.0,"d":-40},{"l":1551.1,"d":-41.2},{"l":1551.2,"d":-42.2},{"l":1551.3,"d":-43},{"l":1551.4,"d":-43.7},{"l":1551.5,"d":-44.3},{"l":1551.6,"d":-45},{"l":1551.7,"d":-45.8},{"l":1551.8,"d":-46.5},{"l":1551.9,"d":-47.3},{"l":1552.0,"d":-48},{"l":1552.1,"d":-48.6},{"l":1552.2,"d":-49.2},{"l":1552.3,"d":-49.6},{"l":1552.4,"d":-49.9},{"l":1552.5,"d":-50},{"l":1552.6,"d":-49.8},{"l":1552.7,"d":-49.4},{"l":1552.8,"d":-49.3},{"l":1552.85,"d":-49.8},{"l":1552.9,"d":-50.8},{"l":1552.95,"d":-52},{"l":1553.0,"d":-53.5}
],
"er":[
{"l":1547.0,"d":-60},{"l":1547.1,"d":-56},{"l":1547.15,"d":-53},{"l":1547.2,"d":-50.5},{"l":1547.25,"d":-48.8},{"l":1547.3,"d":-48.1},{"l":1547.4,"d":-47.8},{"l":1547.5,"d":-47.8},{"l":1547.6,"d":-47.6},{"l":1547.7,"d":-46.8},{"l":1547.8,"d":-45.9},{"l":1547.9,"d":-45.5},{"l":1548.0,"d":-45.3},{"l":1548.1,"d":-45.3},{"l":1548.2,"d":-45.2},{"l":1548.3,"d":-44.8},{"l":1548.4,"d":-43.8},{"l":1548.5,"d":-42.6},{"l":1548.6,"d":-41.3},{"l":1548.7,"d":-39.9},{"l":1548.8,"d":-38.6},{"l":1548.9,"d":-37.4},{"l":1549.0,"d":-36.2},{"l":1549.1,"d":-35.1},{"l":1549.2,"d":-34},{"l":1549.3,"d":-33},{"l":1549.4,"d":-32},{"l":1549.5,"d":-31.2},{"l":1549.6,"d":-30.8},{"l":1549.655,"d":-30.7},{"l":1549.66,"d":-34},{"l":1549.665,"d":-30.6},{"l":1549.695,"d":-30.4},{"l":1549.7,"d":-20},{"l":1549.703,"d":-8},{"l":1549.706,"d":-3.2},{"l":1549.709,"d":-8},{"l":1549.712,"d":-20},{"l":1549.717,"d":-30.4},{"l":1549.745,"d":-30.4},{"l":1549.75,"d":-28},{"l":1549.753,"d":-31.5},{"l":1549.757,"d":-30.4},{"l":1549.8,"d":-30.3},{"l":1549.9,"d":-30.3},{"l":1550.0,"d":-30.5},{"l":1550.1,"d":-30.8},{"l":1550.2,"d":-31.4},{"l":1550.3,"d":-32.1},{"l":1550.4,"d":-32.9},{"l":1550.5,"d":-33.9},{"l":1550.6,"d":-35.1},{"l":1550.7,"d":-36.3},{"l":1550.8,"d":-37.6},{"l":1550.9,"d":-38.9},{"l":1551.0,"d":-40.1},{"l":1551.1,"d":-41.3},{"l":1551.2,"d":-42.3},{"l":1551.3,"d":-43.1},{"l":1551.4,"d":-43.8},{"l":1551.5,"d":-44.4},{"l":1551.6,"d":-45.1},{"l":1551.7,"d":-45.9},{"l":1551.8,"d":-46.7},{"l":1551.9,"d":-47.5},{"l":1552.0,"d":-48.2},{"l":1552.1,"d":-48.9},{"l":1552.2,"d":-49.4},{"l":1552.3,"d":-49.8},{"l":1552.4,"d":-50.1},{"l":1552.5,"d":-50.2},{"l":1552.6,"d":-50.1},{"l":1552.7,"d":-49.8},{"l":1552.8,"d":-49.8},{"l":1552.85,"d":-50.8},{"l":1552.9,"d":-52.2},{"l":1552.95,"d":-54},{"l":1553.0,"d":-56}
],
"ef":[
{"l":1547.35,"d":-58.53},{"l":1547.6,"d":-55.05},{"l":1547.85,"d":-51.59},{"l":1548.1,"d":-48.13},{"l":1548.35,"d":-44.7},{"l":1548.6,"d":-41.31},{"l":1548.85,"d":-38.02},{"l":1549.1,"d":-34.96},{"l":1549.35,"d":-32.4},{"l":1549.6,"d":-30.9},{"l":1549.85,"d":-30.4},{"l":1550.1,"d":-30.9},{"l":1550.35,"d":-32.4},{"l":1550.6,"d":-34.96},{"l":1550.85,"d":-38.02},{"l":1551.1,"d":-41.31},{"l":1551.35,"d":-44.7},{"l":1551.6,"d":-48.13},{"l":1551.85,"d":-51.59},{"l":1552.1,"d":-55.05},{"l":1552.35,"d":-58.53}
],
"ep":[
{"u":0.0,"v":0.23,"g":1},{"u":0.074,"v":0.24,"g":1},{"u":0.123,"v":0.34,"g":1},{"u":0.16,"v":0.29,"g":1},{"u":0.198,"v":0.32,"g":1},{"u":0.235,"v":0.65,"g":1},{"u":0.259,"v":0.57,"g":1},{"u":0.284,"v":0.73,"g":1},{"u":0.309,"v":1.0,"g":1},
{"u":0.519,"v":1.0,"g":2},{"u":0.543,"v":0.81,"g":2},{"u":0.568,"v":0.69,"g":2},{"u":0.595,"v":0.74,"g":2},{"u":0.617,"v":0.77,"g":2},{"u":0.642,"v":0.65,"g":2},{"u":0.679,"v":0.5,"g":2},{"u":0.716,"v":0.42,"g":2},{"u":0.741,"v":0.46,"g":2},{"u":0.778,"v":0.37,"g":2},{"u":0.852,"v":0.3,"g":2},{"u":0.92,"v":0.28,"g":2},{"u":1.0,"v":0.27,"g":2}
],
"ebp":[
{"l":1547.0,"q":0.8},{"l":1547.03,"q":0.9},{"l":1547.08,"q":0.96},{"l":1547.15,"q":0.975},{"l":1547.3,"q":0.98},{"l":1547.5,"q":0.985},{"l":1547.7,"q":0.997},{"l":1547.8,"q":0.999},{"l":1547.95,"q":0.99},{"l":1548.15,"q":0.975},{"l":1548.4,"q":0.964},{"l":1548.6,"q":0.966},{"l":1548.85,"q":0.978},{"l":1549.1,"q":0.992},{"l":1549.4,"q":0.999},{"l":1549.7,"q":1.0},{"l":1550.0,"q":0.997},{"l":1550.4,"q":0.994},{"l":1550.8,"q":0.995},{"l":1551.2,"q":0.998},{"l":1551.5,"q":0.998},{"l":1551.8,"q":0.992},{"l":1552.1,"q":0.978},{"l":1552.35,"q":0.966},{"l":1552.55,"q":0.968},{"l":1552.68,"q":0.972},{"l":1552.78,"q":0.955},{"l":1552.85,"q":0.9},{"l":1552.9,"q":0.85},{"l":1552.95,"q":0.8}
]
},
"spacing":16,
"vconcat":[
{
"spacing":15,
"vconcat":[
{
 "width":561,"height":62,
 "layer":[
  {"data":{"name":"a"},"mark":{"type":"line","strokeWidth":1.3,"clip":true},
   "encoding":{
    "x":{"field":"x","type":"quantitative","scale":{"domain":[-70,70],"nice":false},"axis":{"values":[-60,-40,-20,0,20,40,60],"tickCount":30,"title":"Cavity detuning (kHz)","labelExpr":"''+datum.value","labelOverlap":false}},
    "y":{"field":"p","type":"quantitative","scale":{"domain":[0,1],"nice":false},"axis":{"values":[0,0.5,1],"tickCount":30,"title":"Power (a.u.)","labelExpr":"''+datum.value","labelOverlap":false}},
    "color":{"field":"s","type":"nominal","sort":["20 mW","50 mW","150 mW","800 mW"],"scale":{"domain":["20 mW","50 mW","150 mW","800 mW"],"range":["#333333","#1e6b2b","#e8161b","#1d5a9a"]},
     "legend":{"orient":"top-left","offset":6,"title":null,"symbolType":"M-2.3,0H2.3","symbolStrokeWidth":2,"symbolSize":100,"labelFontSize":10,"strokeColor":"#555555","fillColor":"white","padding":3,"rowPadding":0,"labelOffset":14}}
   }},
  {"data":{"values":[{"x":38.5,"p":0.74,"x2":47.6,"p2":0.857}]},"mark":{"type":"rule","color":"#1d5a9a","strokeDash":[2,1.5],"strokeWidth":1},"encoding":{"x":{"field":"x","type":"quantitative"},"y":{"field":"p","type":"quantitative"},"x2":{"field":"x2"},"y2":{"field":"p2"}}},
  {"data":{"values":[{}]},"mark":{"type":"point","shape":"triangle-right","filled":true,"size":28,"color":"#1d5a9a","angle":349,"opacity":1},"encoding":{"x":{"datum":48.3},"y":{"datum":0.865}}},
  {"data":{"values":[{}]},"mark":{"type":"text","text":"Soliton step","color":"#1d5a9a","fontSize":10,"align":"left","baseline":"middle"},"encoding":{"x":{"datum":50},"y":{"datum":0.87}}},
  {"data":{"values":[{}]},"mark":{"type":"text","text":"a","fontWeight":"bold","fontSize":11,"align":"left","baseline":"middle"},"encoding":{"x":{"datum":-79.8},"y":{"datum":0.98}}}
 ]
},
{
 "spacing":12,
 "hconcat":[
  {
   "spacing":13,
   "vconcat":[
    {
     "width":251,"height":56,
     "resolve":{"scale":{"x":"independent","y":"independent"}},
     "layer":[
      {"layer":[
        {"data":{"name":"b"},"mark":{"type":"line","strokeWidth":1.2,"clip":true},"encoding":{
          "x":{"field":"x","type":"quantitative","scale":{"domain":[-0.5,2],"nice":false},"axis":{"values":[-0.5,0,0.5,1,1.5,2],"tickCount":30,"title":"Cavity detuning (rad)","labelExpr":"''+datum.value","labelOverlap":false}},
          "y":{"field":"p","type":"quantitative","scale":{"domain":[-0.03,1],"nice":false},"axis":{"values":[0,0.5,1],"tickCount":30,"title":"Power (a.u.)","labelExpr":"''+datum.value","labelOverlap":false}},
          "color":{"field":"s","type":"nominal","scale":{"domain":["blue","red"],"range":["#1d5a9a","#e8161b"]},"legend":null}}},
        {"data":{"values":[{"x":-0.02,"x2":0.5,"p":0.02,"p2":0.54}]},"mark":{"type":"rect","fillOpacity":0,"stroke":"#444444","strokeDash":[4,3],"strokeWidth":1},"encoding":{"x":{"field":"x","type":"quantitative"},"x2":{"field":"x2"},"y":{"field":"p","type":"quantitative"},"y2":{"field":"p2"}}},
        {"data":{"values":[{"x":0.5,"p":0.54,"x2":1.156,"p2":0.93},{"x":0.5,"p":0.02,"x2":1.156,"p2":0.115}]},"mark":{"type":"rule","color":"#444444","strokeDash":[2,2],"strokeWidth":0.8},"encoding":{"x":{"field":"x","type":"quantitative"},"y":{"field":"p","type":"quantitative"},"x2":{"field":"x2"},"y2":{"field":"p2"}}},
        {"data":{"values":[{}]},"mark":{"type":"point","filled":true,"size":40,"color":"black","opacity":1},"encoding":{"x":{"datum":0.28},"y":{"datum":0.065}}},
        {"data":{"values":[{}]},"mark":{"type":"text","text":"b","fontWeight":"bold","fontSize":11,"align":"left","baseline":"middle"},"encoding":{"x":{"datum":-0.9},"y":{"datum":0.853}}}
      ]},
      {"layer":[
        {"data":{"values":[{}]},"mark":{"type":"rect","fill":"white","stroke":"#555555","strokeWidth":0.8},"encoding":{
          "x":{"datum":0,"scale":{"domain":[-2.457,1.2522],"nice":false,"zero":false},"axis":null},"x2":{"datum":1},
          "y":{"datum":0,"scale":{"domain":[-0.178,1.0859],"nice":false,"zero":false},"axis":null},"y2":{"datum":1}}},
        {"data":{"name":"bi"},"mark":{"type":"line","strokeWidth":1.2},"encoding":{
          "x":{"field":"u","type":"quantitative","axis":null},"y":{"field":"v","type":"quantitative","axis":null},
          "color":{"field":"s","type":"nominal","scale":{"domain":["blue","red"],"range":["#1d5a9a","#e8161b"]},"legend":null}}},
        {"data":{"values":[{}]},"mark":{"type":"point","filled":true,"size":35,"color":"black","opacity":1},"encoding":{"x":{"datum":0.478,"axis":null},"y":{"datum":0.15,"axis":null}}},
        {"data":{"values":[{}]},"mark":{"type":"rule","color":"#9b1c1c","strokeWidth":1},"encoding":{"x":{"datum":0.45,"axis":null},"y":{"datum":0.22,"axis":null},"x2":{"datum":0.39},"y2":{"datum":0.4}}},
        {"data":{"values":[{}]},"mark":{"type":"text","text":"1","color":"#9b1c1c","fontSize":12,"align":"left","baseline":"middle"},"encoding":{"x":{"datum":0.5,"axis":null},"y":{"datum":0.3,"axis":null}}},
        {"data":{"values":[{}]},"mark":{"type":"rule","color":"#2a8a3a","strokeWidth":1},"encoding":{"x":{"datum":0.27,"axis":null},"y":{"datum":0.24,"axis":null},"x2":{"datum":0.33},"y2":{"datum":0.12}}},
        {"data":{"values":[{}]},"mark":{"type":"text","text":"2","color":"#2a8a3a","fontSize":12,"align":"center","baseline":"middle"},"encoding":{"x":{"datum":0.2,"axis":null},"y":{"datum":0.11,"axis":null}}}
      ]}
     ]
    },
    {
     "width":251,"height":58,
     "layer":[
      {"data":{"name":"c"},"mark":{"type":"rect","strokeWidth":0.6},
       "encoding":{
        "x":{"field":"t","type":"quantitative","bin":{"binned":true,"step":0.025},"scale":{"domain":[0,1],"nice":false},"axis":{"values":[0,0.2,0.4,0.6,0.8,1],"tickCount":30,"title":"Time (ns)","labelExpr":"''+datum.value","labelOverlap":false}},
        "y":{"field":"r","type":"quantitative","bin":{"binned":true,"step":51.75},"scale":{"domain":[0,414],"nice":false},"axis":{"values":[50,150,250,350],"tickCount":30,"title":"Roundtrips","labelExpr":"''+datum.value","labelOverlap":false}},
        "color":{"field":"p","type":"quantitative","scale":{"domain":[0,1],"range":["#3e26a8","#4352ed","#2878f0","#1a9ad9","#12b3bd","#45c189","#a8c058","#f3b93e","#f9fb15"]},
          "legend":{"orient":"top-left","offset":0,"padding":2,"direction":"vertical","title":"Power (a.u.)","titleOrient":"left","titlePadding":1,"titleColor":"white","titleFontSize":9,"titleFontWeight":"normal","labelColor":"white","labelFontSize":11,"gradientLength":46,"gradientThickness":9,"values":[0,1],"format":"~g","gradientStrokeColor":"white","gradientStrokeWidth":0.8,"labelOffset":3}},
        "stroke":{"field":"p","type":"quantitative","scale":{"domain":[0,1],"range":["#3e26a8","#4352ed","#2878f0","#1a9ad9","#12b3bd","#45c189","#a8c058","#f3b93e","#f9fb15"]},"legend":null}
       }},
      {"data":{"values":[{}]},"mark":{"type":"text","text":"c","fontWeight":"bold","fontSize":11,"align":"left","baseline":"middle"},"encoding":{"x":{"datum":-0.16},"y":{"datum":385}}}
     ]
    }
   ]
  },
  {
   "width":251,"height":157,
   "resolve":{"scale":{"x":"independent","y":"independent"}},
   "layer":[
    {"layer":[
      {"data":{"name":"db"},"mark":{"type":"line","strokeWidth":2.6,"color":"#1d5a9a","clip":true},"encoding":{
        "x":{"field":"x","type":"quantitative","scale":{"domain":[-10,10],"nice":false},"axis":{"values":[-10,-5,0,5,10],"tickCount":30,"title":"Time (ps)","labelExpr":"''+datum.value","labelOverlap":false}},
        "y":{"field":"p","type":"quantitative","scale":{"domain":[0,1.25],"nice":false},"axis":{"values":[0,0.2,0.4,0.6,0.8,1,1.2],"tickCount":30,"title":"Power (a.u.)","labelExpr":"''+datum.value","labelOverlap":false}}}},
      {"data":{"name":"df"},"mark":{"type":"line","strokeWidth":1.6,"color":"#e8161b","clip":true},"encoding":{
        "x":{"field":"x","type":"quantitative"},"y":{"field":"p","type":"quantitative"}}},
      {"data":{"values":[{}]},"mark":{"type":"rule","color":"#1d5a9a","strokeWidth":2.5},"encoding":{"x":{"datum":-3.7},"x2":{"datum":-2.1},"y":{"datum":0.585}}},
      {"data":{"values":[{}]},"mark":{"type":"point","shape":"triangle-right","filled":true,"size":110,"color":"#1d5a9a","opacity":1},"encoding":{"x":{"datum":-1.95},"y":{"datum":0.585}}},
      {"data":{"values":[{}]},"mark":{"type":"rule","color":"#1d5a9a","strokeWidth":2.5},"encoding":{"x":{"datum":4.1},"x2":{"datum":2.3},"y":{"datum":0.585}}},
      {"data":{"values":[{}]},"mark":{"type":"point","shape":"triangle-left","filled":true,"size":110,"color":"#1d5a9a","opacity":1},"encoding":{"x":{"datum":2.15},"y":{"datum":0.585}}},
      {"data":{"values":[{}]},"mark":{"type":"text","text":"3.2 ps","color":"#1d5a9a","fontSize":17,"align":"center","baseline":"middle"},"encoding":{"x":{"datum":-5.7},"y":{"datum":0.7}}},
      {"data":{"values":[{}]},"mark":{"type":"text","text":"d","fontWeight":"bold","fontSize":11,"align":"left","baseline":"middle"},"encoding":{"x":{"datum":-12.9},"y":{"datum":1.21}}}
    ]},
    {"layer":[
      {"data":{"values":[{}]},"mark":{"type":"rect","fill":"white","stroke":"#555555","strokeWidth":0.8},"encoding":{
        "x":{"datum":-15,"scale":{"domain":[-95.6,16.34],"nice":false,"zero":false}},"x2":{"datum":15},
        "y":{"datum":-0.9,"scale":{"domain":[-19.69,13.45],"nice":false,"zero":false}},"y2":{"datum":10.7}}},
      {"data":{"name":"di"},"mark":{"type":"line","strokeWidth":1.6,"color":"#e8161b"},"encoding":{
        "x":{"field":"t","type":"quantitative","axis":{"orient":"bottom","values":[-10,0,10],"tickCount":30,"offset":-89,"domain":false,"title":null,"labelExpr":"''+datum.value","labelOverlap":false}},
        "y":{"field":"w","type":"quantitative","axis":{"orient":"left","values":[0,5,10],"tickCount":30,"offset":-180.7,"domain":false,"title":null,"labelExpr":"''+datum.value","labelOverlap":false}}}},
      {"data":{"values":[{}]},"mark":{"type":"text","text":"2.1 ps","color":"#e8161b","fontSize":11,"align":"center","baseline":"middle"},"encoding":{"x":{"datum":-8}, "y":{"datum":7.3}}},
      {"data":{"values":[{}]},"mark":{"type":"rule","color":"#e8161b","strokeWidth":1},"encoding":{"x":{"datum":-5.6},"x2":{"datum":-2.2},"y":{"datum":4.6}}},
      {"data":{"values":[{}]},"mark":{"type":"point","shape":"triangle-right","filled":true,"size":22,"color":"#e8161b","opacity":1},"encoding":{"x":{"datum":-1.9},"y":{"datum":4.6}}},
      {"data":{"values":[{}]},"mark":{"type":"rule","color":"#e8161b","strokeWidth":1},"encoding":{"x":{"datum":6.4},"x2":{"datum":2.2},"y":{"datum":4.6}}},
      {"data":{"values":[{}]},"mark":{"type":"point","shape":"triangle-left","filled":true,"size":22,"color":"#e8161b","opacity":1},"encoding":{"x":{"datum":1.9},"y":{"datum":4.6}}},
      {"data":{"values":[{}]},"mark":{"type":"text","text":"Time (ps)","color":"#262626","fontSize":10,"align":"center","baseline":"middle"},"encoding":{"x":{"datum":0},"y":{"datum":-5.3}}},
      {"data":{"values":[{}]},"mark":{"type":"text","text":"Power (W)","color":"#262626","fontSize":10,"align":"center","baseline":"middle","angle":270},"encoding":{"x":{"datum":-25},"y":{"datum":5}}}
    ]}
   ]
  }
 ]
}
]
},
{
 "width":561,"height":138,
 "resolve":{"scale":{"x":"independent","y":"independent"}},
 "layer":[
  {"layer":[
    {"data":{"name":"eb"},"mark":{"type":"line","strokeWidth":1.8,"color":"#1d5a9a","clip":true},"encoding":{
      "x":{"field":"l","type":"quantitative","scale":{"domain":[1547,1553],"nice":false,"zero":false},"axis":{"values":[1547,1548,1549,1550,1551,1552,1553],"tickCount":30,"title":"Wavelength (nm)","labelExpr":"''+datum.value","labelOverlap":false}},
      "y":{"field":"d","type":"quantitative","scale":{"domain":[-55,0],"nice":false},"axis":{"values":[0,-10,-20,-30,-40,-50],"tickCount":30,"title":"Power (dBm)","labelExpr":"''+datum.value","labelOverlap":false}}}},
    {"data":{"name":"er"},"mark":{"type":"line","strokeWidth":1.8,"color":"#e8161b","clip":true},"encoding":{
      "x":{"field":"l","type":"quantitative"},"y":{"field":"d","type":"quantitative"}}},
    {"data":{"name":"ef"},"mark":{"type":"line","strokeWidth":1.6,"color":"#e8161b","strokeDash":[6,4],"clip":true},"encoding":{
      "x":{"field":"l","type":"quantitative"},"y":{"field":"d","type":"quantitative"}}},
    {"data":{"values":[{"l":1549.46,"l2":1550.03,"d":-20,"d2":-34.1}]},"mark":{"type":"rect","fillOpacity":0,"stroke":"#444444","strokeDash":[4,3],"strokeWidth":1},"encoding":{"x":{"field":"l","type":"quantitative"},"x2":{"field":"l2"},"y":{"field":"d","type":"quantitative"},"y2":{"field":"d2"}}},
    {"data":{"values":[{"l":1548.797,"d":-5.18,"l2":1549.46,"d2":-20},{"l":1548.797,"d":-22.32,"l2":1549.46,"d2":-34.1}]},"mark":{"type":"rule","color":"#555555","strokeDash":[1.5,1.5],"strokeWidth":0.8},"encoding":{"x":{"field":"l","type":"quantitative"},"y":{"field":"d","type":"quantitative"},"x2":{"field":"l2"},"y2":{"field":"d2"}}},
    {"data":{"values":[{}]},"mark":{"type":"text","text":"e","fontWeight":"bold","fontSize":11,"align":"left","baseline":"middle"},"encoding":{"x":{"datum":1546.57},"y":{"datum":-1.6}}}
  ]},
  {"layer":[
    {"data":{"values":[{}]},"mark":{"type":"rect","fill":"white","stroke":"#555555","strokeWidth":0.8},"encoding":{
      "x":{"datum":0,"scale":{"domain":[-0.2444,3.911],"nice":false,"zero":false},"axis":null},"x2":{"datum":1},
      "y":{"datum":0,"scale":{"domain":[-1.9068,1.3022],"nice":false,"zero":false},"axis":null},"y2":{"datum":1}}},
    {"data":{"name":"ep"},"mark":{"type":"line","strokeWidth":1.6,"color":"#1d5a9a"},"encoding":{
      "x":{"field":"u","type":"quantitative","axis":null},"y":{"field":"v","type":"quantitative","axis":null},"detail":{"field":"g"}}},
    {"data":{"values":[{}]},"mark":{"type":"rule","color":"#1d5a9a","strokeDash":[1.5,1.5],"strokeWidth":0.9},"encoding":{"x":{"datum":0.617,"axis":null},"y":{"datum":0.75,"axis":null},"y2":{"datum":0.25}}},
    {"data":{"values":[{}]},"mark":{"type":"rule","color":"#1d5a9a","strokeDash":[1.5,1.5],"strokeWidth":0.9},"encoding":{"x":{"datum":0.617,"axis":null},"x2":{"datum":0.741},"y":{"datum":0.25,"axis":null}}},
    {"data":{"values":[{}]},"mark":{"type":"rule","color":"#1d5a9a","strokeDash":[1.5,1.5],"strokeWidth":0.9},"encoding":{"x":{"datum":0.741,"axis":null},"y":{"datum":0.44,"axis":null},"y2":{"datum":0.25}}},
    {"data":{"values":[{}]},"mark":{"type":"text","text":"Phase","color":"#1d5a9a","fontSize":11,"align":"left","baseline":"middle"},"encoding":{"x":{"datum":0.025,"axis":null},"y":{"datum":0.86,"axis":null}}},
    {"data":{"values":[{}]},"mark":{"type":"text","text":"mod.","color":"#1d5a9a","fontSize":11,"align":"left","baseline":"middle"},"encoding":{"x":{"datum":0.025,"axis":null},"y":{"datum":0.6,"axis":null}}},
    {"data":{"values":[{}]},"mark":{"type":"text","text":"3.969 GHz","color":"#1d5a9a","fontSize":10,"align":"center","baseline":"middle"},"encoding":{"x":{"datum":0.585,"axis":null},"y":{"datum":0.1,"axis":null}}}
  ]},
  {"layer":[
    {"data":{"values":[{}]},"mark":{"type":"rect","fill":"white","stroke":"#555555","strokeWidth":0.8},"encoding":{
      "x":{"datum":1546.35,"scale":{"domain":[1525.183,1555.553],"nice":false,"zero":false}},"x2":{"datum":1553.55},
      "y":{"datum":0.8,"scale":{"domain":[0.211,1.253],"nice":false,"zero":false}},"y2":{"datum":1.17}}},
    {"data":{"name":"ebp"},"mark":{"type":"line","strokeWidth":1.4,"color":"#1e6b2b"},"encoding":{
      "x":{"field":"l","type":"quantitative","axis":{"orient":"bottom","values":[1548,1550,1552],"tickCount":30,"offset":-78,"domain":false,"title":null,"labelExpr":"''+datum.value","labelOverlap":false}},
      "y":{"field":"q","type":"quantitative","axis":{"orient":"left","values":[0.8,1],"tickCount":30,"offset":-391,"domain":false,"title":null,"labelExpr":"''+datum.value","labelOverlap":false}}}},
    {"data":{"values":[{}]},"mark":{"type":"text","text":"Bandpass filter","color":"#1e6b2b","fontSize":10,"align":"left","baseline":"middle"},"encoding":{"x":{"datum":1546.6},"y":{"datum":1.11}}},
    {"data":{"values":[{}]},"mark":{"type":"text","text":"Wavelength (nm)","color":"#262626","fontSize":10,"align":"center","baseline":"middle"},"encoding":{"x":{"datum":1549.95},"y":{"datum":0.626}}},
    {"data":{"values":[{}]},"mark":{"type":"text","text":"Transmission","color":"#262626","fontSize":10,"align":"center","baseline":"middle","angle":270},"encoding":{"x":{"datum":1545.3},"y":{"datum":0.985}}}
  ]}
 ]
}
]
}
